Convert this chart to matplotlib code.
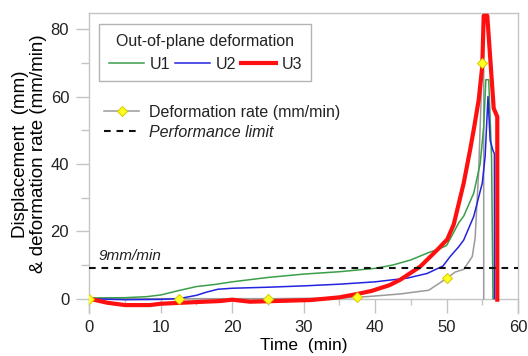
import numpy as np
import matplotlib
matplotlib.use('Agg')
import matplotlib.pyplot as plt
from matplotlib.lines import Line2D
from matplotlib.ticker import MultipleLocator

plt.rcParams['font.family'] = ['Liberation Sans', 'DejaVu Sans']
plt.rcParams['font.size'] = 10.5
plt.rcParams['text.color'] = '#222222'

# Out-of-plane deformation, U1
t_u1 = [0, 5, 8, 10, 12.5, 15, 17.5, 20, 25, 30, 35, 40, 42.5, 45, 47.5, 49,
        50, 50.7, 51.7, 52.4, 53.8, 54.7, 55.2, 55.5, 55.9, 56.3, 56.5]
u1 = [0.2, 0.3, 0.6, 1.1, 2.4, 3.6, 4.2, 5.0, 6.3, 7.3, 8.0, 9.0, 10.0, 11.5,
      13.7, 14.8, 15.8, 18.5, 22.5, 24.5, 31.3, 40.0, 51.0, 65.0, 65.0, 42.0, 0]

# U2
t_u2 = [0, 5, 10, 12.5, 15, 16.5, 18, 20, 25, 30, 35, 40, 44.5, 47.3, 49.5,
        50.5, 51.7, 52.4, 53.8, 55.0, 55.4, 55.8, 56.1, 56.5, 56.7, 56.7]
u2 = [0, -0.3, -0.2, 0, 1.0, 2.0, 2.8, 3.1, 3.4, 3.8, 4.3, 5.0, 6.1, 7.5, 9.7,
      12.5, 15.4, 17.4, 24.4, 34.3, 42.2, 60.0, 47.0, 44.0, 43.0, 0]

# U3
t_u3 = [0, 2.5, 5, 8.5, 10, 15, 18.3, 20, 22.5, 26, 31, 35, 37.5, 39.5, 42,
        43.5, 46.3, 48.7, 50.1, 51, 52.4, 53.3, 53.8, 54.5, 55.0, 55.2, 55.7,
        56.6, 57.1, 57.1]
u3 = [0, -1.2, -1.9, -1.9, -1.5, -1.0, -0.7, -0.3, -0.9, -0.7, -0.4, 0.4, 1.4,
      2.3, 4.0, 5.6, 9.5, 14.5, 17.6, 22.0, 34.3, 44.2, 50.1, 59.0, 69.0, 84.0,
      84.0, 56.5, 54.0, -0.3]

# deformation rate (mm/min), marked points every 12.5 min
t_rate = [0, 12.5, 25, 35, 37.5, 40, 43.5, 47.5, 50, 51.2, 52.4, 53.6, 54.0,
          54.5, 55.0, 55.2, 55.2]
rate = [0, 0, 0, 0.2, 0.4, 0.8, 1.4, 2.5, 6.0, 7.9, 8.7, 12.5, 18.0, 38.0,
        70.0, 70.0, 0]
rate_marks = [0, 1, 2, 4, 8, 14]

limit = 9

fig = plt.figure(figsize=(5.28, 3.56), dpi=100)
ax = fig.add_axes([89.3 / 528, 43 / 356, 428.7 / 528, 300 / 356])

ax.plot(t_rate, rate, color='#9a9a9a', lw=1.1, zorder=2)
l1, = ax.plot(t_u1, u1, color='#3a9e4a', lw=1.1, zorder=3)
l2, = ax.plot(t_u2, u2, color='#2323e0', lw=1.1, zorder=3)
l3, = ax.plot(t_u3, u3, color='#ff1010', lw=3.0, zorder=4)
ax.plot(np.array(t_rate)[rate_marks], np.array(rate)[rate_marks], ls='none',
        marker='D', ms=5.5, mfc='#ffff20', mec='#d8c800', mew=0.7, zorder=6)

ax.axhline(limit, color='#111111', lw=1.5, dashes=(3.2, 2.8), zorder=5)
ax.text(1.3, limit + 2.5, '9mm/min', fontstyle='italic', fontsize=11)

ax.set_xlim(0, 60)
ax.set_ylim(-4.25, 84.8)
ax.xaxis.set_major_locator(MultipleLocator(10))
ax.xaxis.set_minor_locator(MultipleLocator(5))
ax.yaxis.set_major_locator(MultipleLocator(20))
ax.yaxis.set_minor_locator(MultipleLocator(10))

for s in ax.spines.values():
    s.set_color('#c4c4c4')
    s.set_linewidth(1.0)
ax.spines['bottom'].set_position(('data', 0))
ax.spines['bottom'].set_zorder(1)

ax.tick_params(axis='x', which='major', direction='out', length=10, width=1,
               color='#c4c4c4', pad=5, labelsize=12, labelcolor='#222222')
ax.tick_params(axis='x', which='minor', direction='out', length=4, width=1,
               color='#c4c4c4')
ax.tick_params(axis='y', which='major', direction='out', length=9.5, width=1,
               color='#c4c4c4', pad=5, labelsize=12, labelcolor='#222222')
ax.tick_params(axis='y', which='minor', direction='out', length=5.5, width=1,
               color='#c4c4c4')

ax.set_xlabel('Time  (min)', fontsize=12.5)
ax.xaxis.set_label_coords(0.5, -0.083)
ax.set_ylabel('Displacement  (mm)\n& deformation rate (mm/min)', fontsize=13.5,
              linespacing=1.1)
ax.yaxis.set_label_coords(-0.099, 0.53)

leg1 = ax.legend([l1, l2, l3], ['U1', 'U2', 'U3'], title='Out-of-plane deformation',
                 ncol=3, loc='upper left', bbox_to_anchor=(0.023, 0.963),
                 borderaxespad=0, frameon=True, fancybox=False,
                 edgecolor='#a0a0a0', handlelength=2.2, handletextpad=0.35,
                 columnspacing=0.3, borderpad=0.6, fontsize=11.5,
                 title_fontsize=11.5)
leg1.get_frame().set_linewidth(1.0)
ax.add_artist(leg1)

h_rate = Line2D([], [], color='#9a9a9a', lw=1.1, marker='D', ms=5.5,
                mfc='#ffff20', mec='#d8c800', mew=0.7)
h_lim = Line2D([], [], color='#111111', lw=1.5, dashes=(3.2, 2.8))
leg2 = ax.legend([h_rate, h_lim], ['Deformation rate (mm/min)', 'Performance limit'],
                 loc='upper left', bbox_to_anchor=(0.02, 0.715), borderaxespad=0,
                 frameon=False, handlelength=2.2, handletextpad=0.6,
                 labelspacing=0.3, fontsize=11.5)
leg2.get_texts()[1].set_fontstyle('italic')

fig.savefig('out.png', dpi=100)
